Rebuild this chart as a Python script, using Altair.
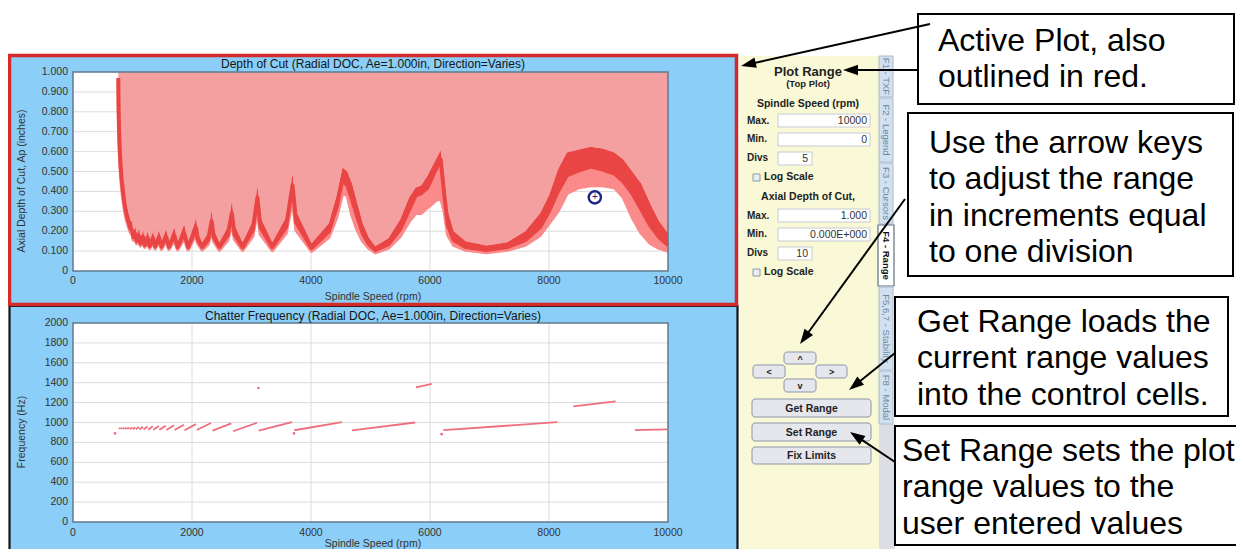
import math
import altair as alt
import pandas as pd

# ---------------- values ----------------
# Top plot: stability boundary (top of dark band, dark/light band edge, top of stable region)
lobe_rpm = [761, 766, 774, 785, 800, 818, 840, 865, 895, 930,
            965, 997, 1015, 1051, 1070, 1112, 1135, 1180, 1205, 1258,
            1287, 1346, 1380, 1447, 1487, 1565, 1612, 1703, 1758, 1869,
            1935, 2070, 2095, 2170, 2270, 2330, 2365, 2460, 2600, 2670,
            2715, 2850, 3020, 3100, 3150, 3350, 3580, 3690, 3750, 4010,
            4300, 4430, 4530, 4610, 4690, 4770, 4870, 4970, 5080, 5300,
            5500, 5650, 5760, 5850, 5960, 6080, 6180, 6240, 6300, 6400,
            6600, 6950, 7300, 7600, 7850, 8000, 8150, 8300, 8500, 8700,
            8900, 9100, 9250, 9400, 9550, 9700, 9850, 10000]
lobe_upper = [1.00, 0.90, 0.80, 0.70, 0.60, 0.52, 0.45, 0.39, 0.335, 0.29,
              0.255, 0.245, 0.195, 0.225, 0.175, 0.215, 0.165, 0.205, 0.155, 0.20,
              0.15, 0.20, 0.148, 0.205, 0.147, 0.21, 0.146, 0.22, 0.145, 0.235,
              0.145, 0.265, 0.195, 0.145, 0.19, 0.305, 0.21, 0.145, 0.22, 0.35,
              0.23, 0.145, 0.25, 0.43, 0.27, 0.145, 0.27, 0.49, 0.30, 0.14,
              0.24, 0.38, 0.52, 0.50, 0.44, 0.35, 0.24, 0.17, 0.125, 0.165,
              0.26, 0.37, 0.42, 0.43, 0.48, 0.55, 0.605, 0.47, 0.30, 0.20,
              0.15, 0.128, 0.145, 0.20, 0.29, 0.38, 0.51, 0.595, 0.61, 0.625,
              0.615, 0.595, 0.56, 0.50, 0.44, 0.34, 0.25, 0.19]
lobe_mid = [0.97, 0.82, 0.71, 0.62, 0.53, 0.46, 0.40, 0.34, 0.29, 0.25,
            0.215, 0.20, 0.17, 0.185, 0.15, 0.175, 0.138, 0.17, 0.13, 0.165,
            0.125, 0.165, 0.123, 0.168, 0.122, 0.172, 0.121, 0.178, 0.12, 0.19,
            0.12, 0.215, 0.16, 0.12, 0.155, 0.25, 0.17, 0.12, 0.18, 0.29,
            0.185, 0.12, 0.205, 0.37, 0.22, 0.12, 0.22, 0.43, 0.245, 0.115,
            0.20, 0.32, 0.46, 0.43, 0.36, 0.28, 0.19, 0.135, 0.105, 0.135,
            0.21, 0.31, 0.38, 0.39, 0.42, 0.50, 0.56, 0.38, 0.23, 0.155,
            0.12, 0.105, 0.12, 0.155, 0.22, 0.30, 0.40, 0.48, 0.505, 0.525,
            0.51, 0.49, 0.45, 0.39, 0.31, 0.23, 0.17, 0.13]
lobe_lower = [0.95, 0.77, 0.66, 0.57, 0.49, 0.42, 0.36, 0.31, 0.26, 0.225,
              0.195, 0.18, 0.155, 0.165, 0.138, 0.155, 0.127, 0.15, 0.12, 0.148,
              0.114, 0.146, 0.112, 0.148, 0.11, 0.152, 0.109, 0.156, 0.108, 0.165,
              0.107, 0.185, 0.14, 0.106, 0.135, 0.21, 0.15, 0.105, 0.155, 0.24,
              0.16, 0.104, 0.175, 0.31, 0.185, 0.103, 0.19, 0.36, 0.205, 0.10,
              0.17, 0.27, 0.39, 0.38, 0.28, 0.21, 0.15, 0.115, 0.093, 0.115,
              0.175, 0.25, 0.29, 0.29, 0.32, 0.35, 0.37, 0.30, 0.18, 0.13,
              0.105, 0.093, 0.105, 0.13, 0.18, 0.24, 0.30, 0.39, 0.42, 0.43,
              0.43, 0.42, 0.37, 0.27, 0.19, 0.14, 0.115, 0.10]
assert len(lobe_rpm) == len(lobe_upper) == len(lobe_mid) == len(lobe_lower)

cursor_rpm = [8770]
cursor_doc = [0.37]

# Bottom plot: chatter frequency segments
seg_rpm_start = [770, 796, 830, 867, 907, 952, 1001, 1055, 1116, 1184,
                 1262, 1350, 1451, 1569, 1707, 1873, 2080, 2345, 2690, 3120,
                 3720, 4690, 5765, 6225, 8410, 9445]
seg_rpm_end = [788, 822, 859, 899, 944, 993, 1047, 1108, 1176, 1254,
               1342, 1443, 1561, 1699, 1865, 2066, 2320, 2660, 3090, 3680,
               4520, 5750, 6030, 8140, 9120, 9990]
seg_hz_start = [938, 937, 936, 935, 934, 933, 932, 931, 930, 929,
                928, 927, 926, 925, 924, 922, 925, 918, 912, 918,
                922, 920, 1353, 923, 1163, 923]
seg_hz_end = [946, 947, 948, 949, 950, 951, 953, 955, 957, 960,
              962, 965, 968, 972, 977, 984, 995, 992, 997, 1003,
              1004, 1000, 1388, 1003, 1212, 930]
dot_rpm = [706, 3714, 6196, 3115]
dot_hz = [890, 890, 883, 1347]

rpm_ticks = [0, 2000, 4000, 6000, 8000, 10000]
rpm_tick_labels = ["0", "2000", "4000", "6000", "8000", "10000"]
doc_ticks = [0.0, 0.1, 0.2, 0.3, 0.4, 0.5, 0.6, 0.7, 0.8, 0.9, 1.0]
doc_tick_labels = ["0", "0.100", "0.200", "0.300", "0.400", "0.500",
                   "0.600", "0.700", "0.800", "0.900", "1.000"]
hz_ticks = [0, 200, 400, 600, 800, 1000, 1200, 1400, 1600, 1800, 2000]
hz_tick_labels = ["0", "200", "400", "600", "800", "1000",
                  "1200", "1400", "1600", "1800", "2000"]

top_title = "Depth of Cut (Radial DOC, Ae=1.000in, Direction=Varies)"
bottom_title = "Chatter Frequency (Radial DOC, Ae=1.000in, Direction=Varies)"
x_title = "Spindle Speed (rpm)"
top_y_title = "Axial Depth of Cut, Ap (inches)"
bottom_y_title = "Frequency (Hz)"

tab_labels = ["F1 - TXF", "F2 - Legend", "F3 - Cursors", "F4 - Range",
              "F5,6,7 - Stability", "F8 - Modal"]
note_lines = [["Active Plot, also", "outlined in red."],
              ["Use the arrow keys", "to adjust the range",
               "in increments equal", "to one division"],
              ["Get Range loads the", "current range values",
               "into the control cells."],
              ["Set Range sets the plot", "range values to the",
               "user entered values"]]

# ---------------- layout (image pixel coordinates) ----------------
W, H = 1228, 541


def X(v):
    return v - 8


def Y(v):
    return v - 8


FONT = "Liberation Sans"
BLUE = "#8BCEF7"
PINK = "#F4A0A0"
DARK = "#EA4545"
SALMON = "#FB8B8B"
PL, PR = 73, 668
TT, TB = 72, 271
BT, BB = 323, 522

xs_top = alt.Scale(domain=[0, 10000], range=[X(PL), X(PR)], nice=False, zero=False)
ys_top = alt.Scale(domain=[0, 1], range=[Y(TB), Y(TT)], nice=False, zero=False)
ys_bot = alt.Scale(domain=[0, 2000], range=[Y(BB), Y(BT)], nice=False, zero=False)


def R(x0, x1, y0, y1, fill, stroke="transparent", sw=0):
    return dict(x=X(x0), x2=X(x1), y=Y(y0), y2=Y(y1), fill=fill, stroke=stroke, sw=sw)


def rect_layer(rows, **kw):
    return alt.Chart(pd.DataFrame(rows)).mark_rect(**kw).encode(
        x=alt.X("x:Q", scale=None, axis=None), x2="x2:Q",
        y=alt.Y("y:Q", scale=None, axis=None), y2="y2:Q",
        fill=alt.Fill("fill:N", scale=None),
        stroke=alt.Stroke("stroke:N", scale=None),
        strokeWidth=alt.StrokeWidth("sw:Q", scale=None))


def T(text, x, y, size, color="#222222"):
    return dict(text=text, x=X(x), y=Y(y), size=size, color=color)


def text_layer(rows, align="center", weight="normal", angle=0, font=FONT):
    return alt.Chart(pd.DataFrame(rows)).mark_text(
        align=align, baseline="middle", font=font, fontWeight=weight, angle=angle
    ).encode(
        x=alt.X("x:Q", scale=None, axis=None), y=alt.Y("y:Q", scale=None, axis=None),
        text="text:N", size=alt.Size("size:Q", scale=None),
        color=alt.Color("color:N", scale=None))


layers = []

# plot frames
layers.append(rect_layer([
    R(9.5, 737.5, 306, 558, BLUE, "#151515", 2.2),
    R(9.5, 736.5, 55.5, 304.5, BLUE, "#D42A2A", 3.5),
    R(PL, PR, TT, TB, "white"),
    R(PL, PR, BT, BB, "white"),
]))

# grid lines
grid_x = pd.DataFrame({"rpm": rpm_ticks[1:-1]})
grid_doc = pd.DataFrame({"doc": doc_ticks[1:-1]})
grid_hz = pd.DataFrame({"hz": hz_ticks[1:-1]})
GRID = "#DCDCDC"
layers.append(alt.Chart(grid_x).mark_rule(color=GRID, strokeWidth=1).encode(
    x=alt.X("rpm:Q", scale=xs_top, axis=None), y=alt.value(Y(TT)), y2=alt.value(Y(TB))))
layers.append(alt.Chart(grid_x).mark_rule(color=GRID, strokeWidth=1).encode(
    x=alt.X("rpm:Q", scale=xs_top, axis=None), y=alt.value(Y(BT)), y2=alt.value(Y(BB))))
layers.append(alt.Chart(grid_doc).mark_rule(color=GRID, strokeWidth=1).encode(
    y=alt.Y("doc:Q", scale=ys_top, axis=None), x=alt.value(X(PL)), x2=alt.value(X(PR))))
layers.append(alt.Chart(grid_hz).mark_rule(color=GRID, strokeWidth=1).encode(
    y=alt.Y("hz:Q", scale=ys_bot, axis=None), x=alt.value(X(PL)), x2=alt.value(X(PR))))

# stability lobes
lobes = pd.DataFrame({"rpm": lobe_rpm, "U": lobe_upper, "M": lobe_mid, "L": lobe_lower,
                      "ceiling": [doc_ticks[-1]] * len(lobe_rpm)})
xenc = alt.X("rpm:Q", scale=xs_top, axis=None)
layers.append(alt.Chart(lobes).mark_area(color=PINK, opacity=1).encode(
    x=xenc, y=alt.Y("U:Q", scale=ys_top, axis=None), y2="ceiling:Q"))
layers.append(alt.Chart(lobes).mark_area(color=DARK, opacity=1).encode(
    x=xenc, y=alt.Y("M:Q", scale=ys_top, axis=None), y2="U:Q"))
layers.append(alt.Chart(lobes).mark_area(color=SALMON, opacity=1).encode(
    x=xenc, y=alt.Y("L:Q", scale=ys_top, axis=None), y2="M:Q"))
# thick boundary strokes (the band reads as a broad stroke in the reference)
layers.append(alt.Chart(lobes).mark_line(color=SALMON, strokeWidth=3.5, strokeJoin="round",
                                         opacity=1).encode(
    x=xenc, y=alt.Y("L:Q", scale=ys_top, axis=None)))
layers.append(alt.Chart(lobes).mark_line(color=DARK, strokeWidth=4, strokeJoin="round",
                                         opacity=1).encode(
    x=xenc, y=alt.Y("M:Q", scale=ys_top, axis=None)))

# chatter frequency
segs = pd.DataFrame({"r0": seg_rpm_start, "r1": seg_rpm_end, "f0": seg_hz_start, "f1": seg_hz_end})
layers.append(alt.Chart(segs).mark_rule(color="#EE6E7E", strokeWidth=1.8).encode(
    x=alt.X("r0:Q", scale=xs_top, axis=None), x2="r1:Q",
    y=alt.Y("f0:Q", scale=ys_bot, axis=None), y2="f1:Q"))
dots = pd.DataFrame({"rpm": dot_rpm, "hz": dot_hz})
layers.append(alt.Chart(dots).mark_circle(color="#EE6E7E", size=7, opacity=1).encode(
    x=alt.X("rpm:Q", scale=xs_top, axis=None), y=alt.Y("hz:Q", scale=ys_bot, axis=None)))

# plot-area borders
layers.append(rect_layer([
    R(PL, PR, TT, TB, "transparent", "#627A8E", 1.5),
    R(PL, PR, BT, BB, "transparent", "#627A8E", 1.5),
]))

# cursor marker
cur = pd.DataFrame({"rpm": cursor_rpm, "doc": cursor_doc, "t": ["+"]})
layers.append(alt.Chart(cur).mark_point(shape="circle", size=150, filled=False,
                                        color="#1B2585", strokeWidth=2.4, opacity=1).encode(
    x=alt.X("rpm:Q", scale=xs_top, axis=None), y=alt.Y("doc:Q", scale=ys_top, axis=None)))
layers.append(alt.Chart(cur).mark_text(fontSize=10, color="#1B2585", baseline="middle",
                                       font=FONT).encode(
    x=alt.X("rpm:Q", scale=xs_top, axis=None), y=alt.Y("doc:Q", scale=ys_top, axis=None),
    text="t:N"))

# tick labels
TICK = "#333333"
xt = pd.DataFrame({"rpm": rpm_ticks, "lab": rpm_tick_labels})
for yy in (281, 533):
    layers.append(alt.Chart(xt).mark_text(font=FONT, fontSize=10.5, color=TICK,
                                          baseline="middle").encode(
        x=alt.X("rpm:Q", scale=xs_top, axis=None), y=alt.value(Y(yy)), text="lab:N"))
layers.append(alt.Chart(pd.DataFrame({"v": doc_ticks, "lab": doc_tick_labels})).mark_text(
    font=FONT, fontSize=10.5, color=TICK, align="right", baseline="middle").encode(
    y=alt.Y("v:Q", scale=ys_top, axis=None), x=alt.value(X(68)), text="lab:N"))
layers.append(alt.Chart(pd.DataFrame({"v": hz_ticks, "lab": hz_tick_labels})).mark_text(
    font=FONT, fontSize=10.5, color=TICK, align="right", baseline="middle").encode(
    y=alt.Y("v:Q", scale=ys_bot, axis=None), x=alt.value(X(68)), text="lab:N"))

# plot titles
layers.append(text_layer([
    T(top_title, 373, 64, 12, "#151515"),
    T(bottom_title, 373, 316, 12, "#151515"),
    T(x_title, 373, 297, 10.5, "#333333"),
    T(x_title, 373, 544, 10.5, "#333333"),
]))
layers.append(text_layer([
    T(top_y_title, 22, 181, 10.5, "#333333"),
    T(bottom_y_title, 22, 432, 10.5, "#333333"),
], angle=270))

# ---------------- control panel ----------------
tab_spans = [(56, 97), (98, 162), (163, 224), (225, 286), (287, 370), (371, 424)]
panel_rects = [R(740, 879, 56, 558, "#FAF9D7"), R(879, 895, 424, 558, "#DDDEE4")]
for i, (a, b) in enumerate(tab_spans):
    if tab_labels[i] == "F4 - Range":
        panel_rects.append(R(878, 894, a, b, "white", "#5F6F80", 1.2))
    else:
        panel_rects.append(R(879, 893, a, b, "#D3E1EE", "#A9BBCC", 1))
box = "#C6CBD2"
for (x0, x1, y0, y1) in [(778, 870, 114, 127), (778, 870, 133, 146), (778, 812, 152, 165),
                         (778, 870, 209, 222), (778, 870, 228, 241), (778, 812, 247, 260)]:
    panel_rects.append(R(x0, x1, y0, y1, "white", box, 1))
for (y0, y1) in [(174, 181), (269, 276)]:
    panel_rects.append(R(753, 760, y0, y1, "#E9EEF3", "#8B9AAA", 1))
layers.append(rect_layer(panel_rects))

buttons = [("^", 784, 816, 352, 364), ("<", 753, 785, 365, 378), (">", 816, 847, 365, 378),
           ("v", 784, 816, 379, 392), ("Get Range", 752, 871, 399, 417),
           ("Set Range", 752, 871, 423, 441), ("Fix Limits", 752, 871, 447, 464)]
layers.append(rect_layer([R(b[1], b[2], b[3], b[4], "#E6E7ED", "#8D96A7", 1) for b in buttons],
                         cornerRadius=3))
layers.append(text_layer([T(b[0], (b[1] + b[2]) / 2, (b[3] + b[4]) / 2 + 0.5,
                            9 if len(b[0]) == 1 else 10.5, "#222222") for b in buttons],
                         weight="bold"))

layers.append(text_layer([
    T("Plot Range", 808, 72, 13), T("(Top Plot)", 808, 84, 9.5),
    T("Spindle Speed (rpm)", 808, 104, 10.5), T("Axial Depth of Cut,", 808, 197, 10.5),
], weight="bold"))
layers.append(text_layer([
    T("Max.", 747, 121, 10), T("Min.", 747, 139, 10), T("Divs", 747, 158, 10),
    T("Log Scale", 764, 177, 10.5),
    T("Max.", 747, 216, 10), T("Min.", 747, 234, 10), T("Divs", 747, 253, 10),
    T("Log Scale", 764, 272, 10.5),
], align="left", weight="bold"))
layers.append(text_layer([
    T("10000", 867, 121, 10.5, "#333333"), T("0", 867, 140, 10.5, "#333333"),
    T("5", 808, 159, 10.5, "#333333"), T("1.000", 867, 216, 10.5, "#333333"),
    T("0.000E+000", 867, 235, 10.5, "#333333"), T("10", 808, 254, 10.5, "#333333"),
], align="right"))
tab_txt = [T(lab, 886, (a + b) / 2, 9.5, "#6A88A6")
           for lab, (a, b) in zip(tab_labels, tab_spans) if lab != "F4 - Range"]
layers.append(text_layer(tab_txt, angle=90))
layers.append(text_layer([T("F4 - Range", 886, (225 + 286) / 2, 9.5, "#111111")],
                         angle=90, weight="bold"))

# ---------------- annotation boxes ----------------
note_boxes = [(918, 1234, 14, 104), (908, 1233, 113, 276), (895, 1228, 297, 416), (895, 1250, 426, 545)]
note_text_x = [938, 929, 917, 902]
note_first_y = [41, 143, 322, 451]
LINE = 36.3
layers.append(rect_layer([R(a, b, c, d, "white", "black", 2) for (a, b, c, d) in note_boxes]))
note_rows = []
for lines, tx, fy in zip(note_lines, note_text_x, note_first_y):
    for k, line in enumerate(lines):
        note_rows.append(T(line, tx, fy + k * LINE, 32, "#000000"))
layers.append(text_layer(note_rows, align="left"))

# arrows
arrows = [((930, 24), (741, 66)), ((918, 70), (843, 70)), ((905, 199), (800, 344)),
          ((895, 353), (849, 390)), ((895, 462), (850, 432))]
HEAD = 15
line_rows, head_rows = [], []
for (sx, sy), (tx, ty) in arrows:
    dx, dy = tx - sx, ty - sy
    ln = math.hypot(dx, dy)
    ux, uy = dx / ln, dy / ln
    line_rows.append(dict(x=X(sx), y=Y(sy), x2=X(tx - ux * (HEAD - 3)), y2=Y(ty - uy * (HEAD - 3))))
    head_rows.append(dict(x=X(tx - ux * HEAD / 2), y=Y(ty - uy * HEAD / 2),
                          angle=math.degrees(math.atan2(dx, -dy)) % 360))
layers.append(alt.Chart(pd.DataFrame(line_rows)).mark_rule(color="black", strokeWidth=2).encode(
    x=alt.X("x:Q", scale=None, axis=None), x2="x2:Q",
    y=alt.Y("y:Q", scale=None, axis=None), y2="y2:Q"))
layers.append(alt.Chart(pd.DataFrame(head_rows)).mark_point(
    shape="M0,-1L0.7,1L-0.7,1Z", filled=True, color="black", size=HEAD * HEAD, opacity=1).encode(
    x=alt.X("x:Q", scale=None, axis=None), y=alt.Y("y:Q", scale=None, axis=None),
    angle=alt.Angle("angle:Q", scale=None)))

chart = alt.layer(*layers).resolve_scale(
    x="independent", y="independent"
).properties(
    width=W, height=H, padding=0, autosize=alt.AutoSizeParams(type="none"), background="white"
).configure_view(stroke=None)

chart.save("out.html", embed_options={"renderer": "svg", "actions": False})
